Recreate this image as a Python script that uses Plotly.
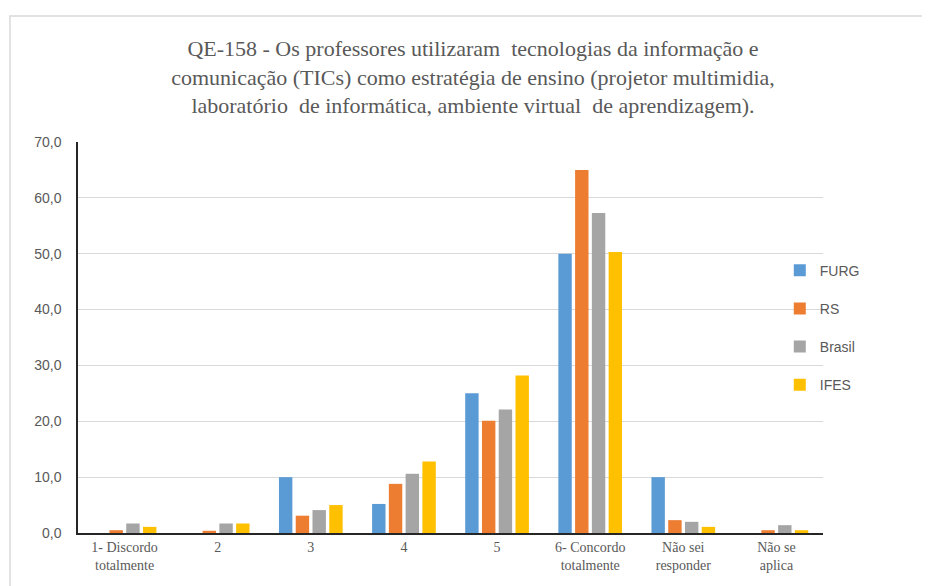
import plotly.graph_objects as go

categories = ["1- Discordo<br>totalmente", "2", "3", "4", "5",
              "6- Concordo<br>totalmente", "Não sei<br>responder", "Não se<br>aplica"]
furg = [0.0, 0.0, 10.0, 5.2, 25.0, 50.0, 10.0, 0.0]
rs = [0.5, 0.4, 3.1, 8.8, 20.1, 65.0, 2.3, 0.5]
brasil = [1.7, 1.7, 4.1, 10.6, 22.1, 57.3, 2.0, 1.4]
ifes = [1.1, 1.7, 5.0, 12.8, 28.2, 50.3, 1.1, 0.5]

series = [("FURG", furg, "#5B9BD5"), ("RS", rs, "#ED7D31"),
          ("Brasil", brasil, "#A5A5A5"), ("IFES", ifes, "#FFC000")]

fig = go.Figure()
for name, vals, color in series:
    fig.add_trace(go.Bar(x=categories, y=vals, name=name, marker_color=color,
                         marker_line_width=0, legendgroup=name))

title = ("QE-158 - Os professores utilizaram  tecnologias da informação e<br>"
         "comunicação (TICs) como estratégia de ensino (projetor multimidia,<br>"
         "laboratório  de informática, ambiente virtual  de aprendizagem).")

# page body adds an 8px offset, so margins are shifted accordingly
fig.update_layout(
    width=930, height=586,
    margin=dict(l=70, r=115, t=134, b=61),
    paper_bgcolor="white", plot_bgcolor="white",
    separators=",.",
    barmode="group", bargap=0.28, bargroupgap=0.2,
    title=dict(text=title, x=0.5, xanchor="center", y=0.918, yanchor="top",
               font=dict(family="Liberation Serif", size=22, color="#595959")),
    legend=dict(x=0.942, y=0.712, xanchor="left", yanchor="top",
                font=dict(family="Liberation Sans", size=14, color="#595959"),
                tracegroupgap=17, bgcolor="rgba(0,0,0,0)"),
    showlegend=True,
)
fig.update_xaxes(showline=True, linecolor="#262626", linewidth=1.5,
                 showgrid=False, ticks="",
                 tickfont=dict(family="Liberation Serif", size=14, color="#595959"))
fig.update_yaxes(range=[0, 70], dtick=10, tickformat=".1f",
                 showline=True, linecolor="#262626", linewidth=1.5,
                 gridcolor="#D9D9D9", gridwidth=1, zeroline=False,
                 ticklabelstandoff=12,
                 tickfont=dict(family="Liberation Sans", size=14, color="#595959"))

# light gray outer frame of the chart area
fig.add_shape(type="rect", xref="paper", yref="paper",
              x0=-0.0913, x1=1.3, y0=-0.3, y1=1.3223,
              line=dict(color="#D9D9D9", width=1.5), layer="below")

fig.write_html("out.html")
